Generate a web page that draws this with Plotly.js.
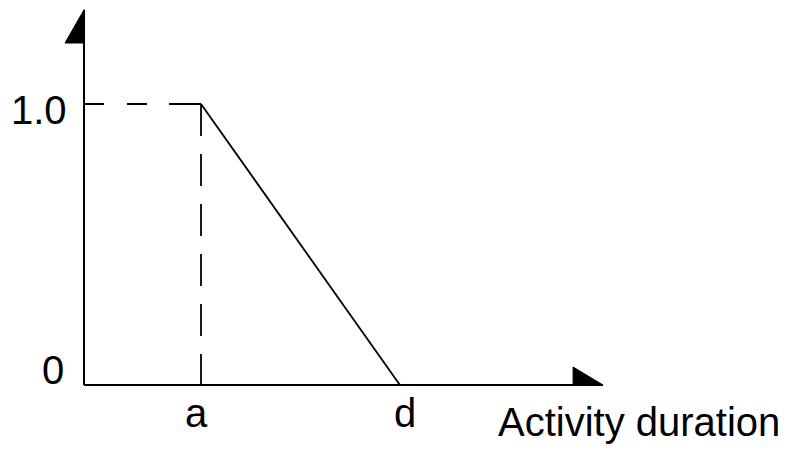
<!DOCTYPE html>
<html>
<head>
<meta charset="utf-8">
<script src="https://cdn.plot.ly/plotly-3.0.1.min.js"></script>
<style>html,body{margin:0;padding:0;background:#fff;}#chart{width:790px;height:453px;}</style>
</head>
<body>
<div id="chart"></div>
<script>
// Membership function: full (1.0) at a, falls linearly to 0 at d
const pointLabels = ['a', 'd'];
const pointX = [1, 2.7];
const levelLabels = ['0', '1.0'];
const levelY = [0, 1];
const axisXEnd = 4.436;
const axisYEnd = 1.335;
const xTitle = 'Activity duration';

const a = pointX[0], d = pointX[1];
const black = '#000';
const font = {family: 'Liberation Sans, Arial, sans-serif', size: 40, color: black};

const traces = [
  // x axis
  {x: [0, axisXEnd], y: [0, 0], mode: 'lines', line: {color: black, width: 2}},
  // y axis
  {x: [0, 0], y: [0, axisYEnd], mode: 'lines', line: {color: black, width: 2}},
  // dashed guide lines
  {x: [0, a], y: [levelY[1], levelY[1]], mode: 'lines', line: {color: black, width: 1.8, dash: '20px,23px,20px,22px,34px'}},
  {x: [a, a], y: [levelY[1], 0], mode: 'lines', line: {color: black, width: 1.8, dash: '32px,18px'}},
  // membership line
  {x: [a, d], y: [levelY[1], levelY[0]], mode: 'lines', line: {color: black, width: 1.8}},
  // arrow heads
  {x: [0, 0, -0.162, 0], y: [axisYEnd, 1.217, 1.217, axisYEnd], mode: 'lines', fill: 'toself', fillcolor: black, line: {color: black, width: 1}},
  {x: [axisXEnd, axisXEnd - 0.256, axisXEnd - 0.256, axisXEnd], y: [0, 0, 0.064, 0], mode: 'lines', fill: 'toself', fillcolor: black, line: {color: black, width: 1}}
];

const annotations = [
  {x: 0, y: levelY[1], text: levelLabels[1], xanchor: 'right', yanchor: 'middle', xshift: -15, yshift: -6},
  {x: 0, y: levelY[0], text: levelLabels[0], xanchor: 'right', yanchor: 'bottom', xshift: -18, yshift: -9},
  {x: a, y: 0, text: pointLabels[0], xanchor: 'center', yanchor: 'top', xshift: -5, yshift: -4},
  {x: d, y: 0, text: pointLabels[1], xanchor: 'center', yanchor: 'top', xshift: 5, yshift: -4},
  {x: 4.74, y: 0, text: xTitle, xanchor: 'center', yanchor: 'top', yshift: -13}
].map(o => Object.assign({xref: 'x', yref: 'y', showarrow: false, font: font}, o));

const layout = {
  width: 790, height: 453,
  margin: {l: 0, r: 0, t: 0, b: 0},
  paper_bgcolor: '#fff', plot_bgcolor: '#fff',
  showlegend: false,
  xaxis: {range: [-0.718, 6.034], visible: false, fixedrange: true},
  yaxis: {range: [-0.242, 1.370], visible: false, fixedrange: true},
  annotations: annotations
};

Plotly.newPlot('chart', traces, layout, {staticPlot: true, displayModeBar: false});
</script>
</body>
</html>
